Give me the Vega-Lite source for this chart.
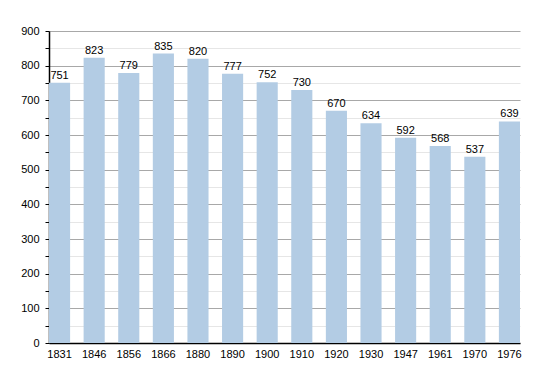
{
  "$schema": "https://vega.github.io/schema/vega-lite/v6.json",
  "width": 471,
  "height": 312,
  "autosize": {"type": "none"},
  "padding": {"left": 49, "top": 31, "right": 30, "bottom": 30},
  "background": "white",
  "config": {
    "view": {"stroke": null},
    "font": "Liberation Sans",
    "axis": {"labelFont": "Liberation Sans", "labelFontSize": 11, "labelColor": "#000"}
  },
  "data": {
    "values": [
      {"year": "1831", "pop": 751},
      {"year": "1846", "pop": 823},
      {"year": "1856", "pop": 779},
      {"year": "1866", "pop": 835},
      {"year": "1880", "pop": 820},
      {"year": "1890", "pop": 777},
      {"year": "1900", "pop": 752},
      {"year": "1910", "pop": 730},
      {"year": "1920", "pop": 670},
      {"year": "1930", "pop": 634},
      {"year": "1947", "pop": 592},
      {"year": "1961", "pop": 568},
      {"year": "1970", "pop": 537},
      {"year": "1976", "pop": 639}
    ]
  },
  "encoding": {
    "x": {
      "field": "year", "type": "nominal", "sort": null,
      "scale": {"paddingInner": 0.39, "paddingOuter": 0},
      "axis": {"title": null, "labelAngle": 0, "ticks": false, "domainColor": "#000", "domainWidth": 1.5, "labelPadding": 5}
    },
    "y": {
      "field": "pop", "type": "quantitative",
      "scale": {"domain": [0, 900], "nice": false},
      "axis": {
        "title": null,
        "values": [0,50,100,150,200,250,300,350,400,450,500,550,600,650,700,750,800,850,900],
        "labelExpr": "datum.value % 100 === 0 ? datum.label : ''",
        "grid": true,
        "gridColor": {"condition": {"test": "datum.value % 100 === 0", "value": "#a8a8a8"}, "value": "#e6e6e6"},
        "tickColor": "#000",
        "tickSize": 4,
        "domainColor": "#000",
        "domainWidth": 1.5,
        "labelPadding": 6
      }
    }
  },
  "layer": [
    {"mark": {"type": "bar", "color": "#b3cce4"}},
    {
      "mark": {"type": "text", "baseline": "bottom", "dy": -2, "fontSize": 11, "font": "Liberation Sans", "color": "#000"},
      "encoding": {"text": {"field": "pop", "type": "quantitative"}}
    }
  ]
}
